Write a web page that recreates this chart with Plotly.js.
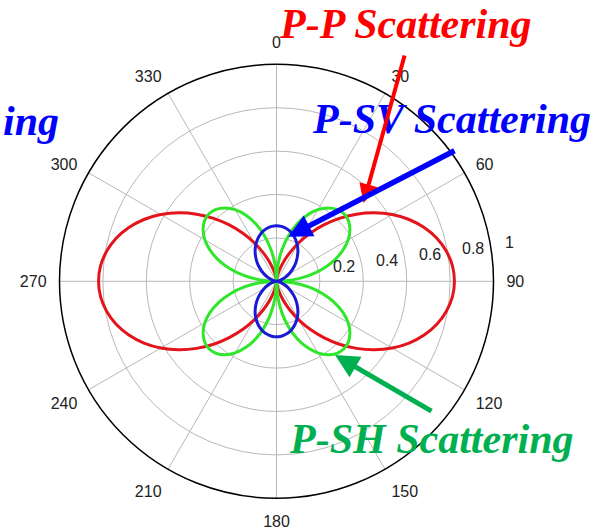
<!DOCTYPE html>
<html>
<head>
<meta charset="utf-8">
<script src="https://cdn.plot.ly/plotly-3.0.1.min.js"></script>
<style>html,body{margin:0;padding:0;background:#fff;}#chart{width:615px;height:532px;}</style>
</head>
<body>
<div id="chart"></div>
<script>
// Angles (degrees, clockwise from top) at which the curves were read
const theta = [0,5,10,15,20,25,30,35,40,45,50,55,60,65,70,75,80,85,90,
  95,100,105,110,115,120,125,130,135,140,145,150,155,160,165,170,175,180,
  185,190,195,200,205,210,215,220,225,230,235,240,245,250,255,260,265,270,
  275,280,285,290,295,300,305,310,315,320,325,330,335,340,345,350,355,360];

// P-P scattering (red)
const rPP = [0,0.006,0.025,0.055,0.096,0.146,0.205,0.270,0.339,0.410,0.481,0.550,0.615,0.674,0.724,0.765,0.795,0.814,0.820,
  0.814,0.795,0.765,0.724,0.674,0.615,0.550,0.481,0.410,0.339,0.270,0.205,0.146,0.096,0.055,0.025,0.006,0,
  0.006,0.025,0.055,0.096,0.146,0.205,0.270,0.339,0.410,0.481,0.550,0.615,0.674,0.724,0.765,0.795,0.814,0.820,
  0.814,0.795,0.765,0.724,0.674,0.615,0.550,0.481,0.410,0.339,0.270,0.205,0.146,0.096,0.055,0.025,0.006,0];

// P-SH scattering (green)
const rPSH = [0,0.076,0.150,0.220,0.283,0.337,0.381,0.413,0.433,0.440,0.433,0.413,0.381,0.337,0.283,0.220,0.150,0.076,0,
  0.076,0.150,0.220,0.283,0.337,0.381,0.413,0.433,0.440,0.433,0.413,0.381,0.337,0.283,0.220,0.150,0.076,0,
  0.076,0.150,0.220,0.283,0.337,0.381,0.413,0.433,0.440,0.433,0.413,0.381,0.337,0.283,0.220,0.150,0.076,0,
  0.076,0.150,0.220,0.283,0.337,0.381,0.413,0.433,0.440,0.433,0.413,0.381,0.337,0.283,0.220,0.150,0.076,0];

// P-SV scattering (blue)
const rPSV = [0.256,0.254,0.248,0.239,0.226,0.210,0.192,0.172,0.150,0.128,0.106,0.084,0.064,0.046,0.030,0.017,0.008,0.002,0,
  0.002,0.008,0.017,0.030,0.046,0.064,0.084,0.106,0.128,0.150,0.172,0.192,0.210,0.226,0.239,0.248,0.254,0.256,
  0.254,0.248,0.239,0.226,0.210,0.192,0.172,0.150,0.128,0.106,0.084,0.064,0.046,0.030,0.017,0.008,0.002,0,
  0.002,0.008,0.017,0.030,0.046,0.064,0.084,0.106,0.128,0.150,0.172,0.192,0.210,0.226,0.239,0.248,0.254,0.256];

const radialTicks = [0.2,0.4,0.6,0.8,1];
const radialTickText = ['0.2','0.4','0.6','0.8','1'];
const angularTicks = [0,30,60,90,120,150,180,210,240,270,300,330];
const angularTickText = ['0','30','60','90','120','150','180','210','240','270','300','330'];

// figure geometry (pixels)
const W = 615, H = 532;
const CX = 276.5, CY = 281.3, RPX = 217;

function px(x) { return x / W; }
function py(y) { return 1 - y / H; }

function curve(r, color) {
  return {type: 'scatterpolar', mode: 'lines', r: r, theta: theta,
    line: {color: color, width: 3, shape: 'spline', smoothing: 1},
    hoverinfo: 'skip', cliponaxis: false};
}

const data = [
  curve(rPP, '#e3141b'),
  curve(rPSH, '#2ee62a'),
  curve(rPSV, '#1a1ad6')
];

const titleFont = function (c) {
  return {family: 'Times New Roman, Liberation Serif, serif', size: 42, color: c, weight: 'bold', style: 'italic'};
};

const annotations = [];

// radial tick labels near the 82 degree spoke, shifted right a little
const lblAngle = 82 * Math.PI / 180, lblShift = 12;
radialTicks.forEach(function (v, i) {
  const x = CX + v * RPX * Math.sin(lblAngle) + lblShift;
  const y = CY - v * RPX * Math.cos(lblAngle) - 9;
  annotations.push({xref: 'paper', yref: 'paper', x: px(x), y: py(y), xanchor: 'left', yanchor: 'middle',
    text: radialTickText[i], showarrow: false,
    font: {family: 'Arial, Liberation Sans, sans-serif', size: 16, color: '#222'}});
});

annotations.push(
  {xref: 'paper', yref: 'paper', x: px(451.5), y: py(118.5), xanchor: 'center', yanchor: 'middle',
   text: 'P-SV Scattering', showarrow: false, font: titleFont('#0000ff')},
  {xref: 'paper', yref: 'paper', x: px(1), y: py(121), xanchor: 'left', yanchor: 'middle',
   text: 'ing', showarrow: false, font: titleFont('#0000ff')},
  {xref: 'paper', yref: 'paper', x: px(405), y: py(24), xanchor: 'center', yanchor: 'middle',
   text: 'P-P Scattering', showarrow: false, font: titleFont('#ff0000')},
  {xref: 'paper', yref: 'paper', x: px(431.7), y: py(439), xanchor: 'center', yanchor: 'middle',
   text: 'P-SH Scattering', showarrow: false, font: titleFont('#00b050')},
  // arrows
  {xref: 'paper', yref: 'paper', x: px(363.5), y: py(203), ax: 41.5, ay: -149, text: '',
   showarrow: true, arrowhead: 2, arrowsize: 0.95, arrowwidth: 4, arrowcolor: '#ff0000', standoff: 0},
  {xref: 'paper', yref: 'paper', x: px(288.3), y: py(236.7), ax: 167.7, ay: -86.7, text: '',
   showarrow: true, arrowhead: 2, arrowsize: 0.85, arrowwidth: 5.5, arrowcolor: '#0000ff', standoff: 0},
  {xref: 'paper', yref: 'paper', x: px(335), y: py(355), ax: 98, ay: 57, text: '',
   showarrow: true, arrowhead: 2, arrowsize: 0.95, arrowwidth: 5, arrowcolor: '#00b050', standoff: 0}
);

const layout = {
  width: W, height: H,
  margin: {l: 0, r: 0, t: 0, b: 0},
  paper_bgcolor: '#ffffff',
  showlegend: false,
  polar: {
    domain: {x: [px(CX - RPX), px(CX + RPX)], y: [py(CY + RPX), py(CY - RPX)]},
    bgcolor: '#ffffff',
    radialaxis: {range: [0, 1], tickvals: radialTicks, showticklabels: false, ticks: '',
      showline: false, gridcolor: '#b8b8b8', gridwidth: 1},
    angularaxis: {rotation: 90, direction: 'clockwise', tickvals: angularTicks, ticktext: angularTickText,
      showline: true, linecolor: '#000000', linewidth: 1.5,
      gridcolor: '#b8b8b8', gridwidth: 1,
      ticks: 'outside', ticklen: 9, tickcolor: 'rgba(0,0,0,0)',
      tickfont: {family: 'Arial, Liberation Sans, sans-serif', size: 16, color: '#222'}}
  },
  annotations: annotations
};

Plotly.newPlot('chart', data, layout, {staticPlot: true, displayModeBar: false});
</script>
</body>
</html>
